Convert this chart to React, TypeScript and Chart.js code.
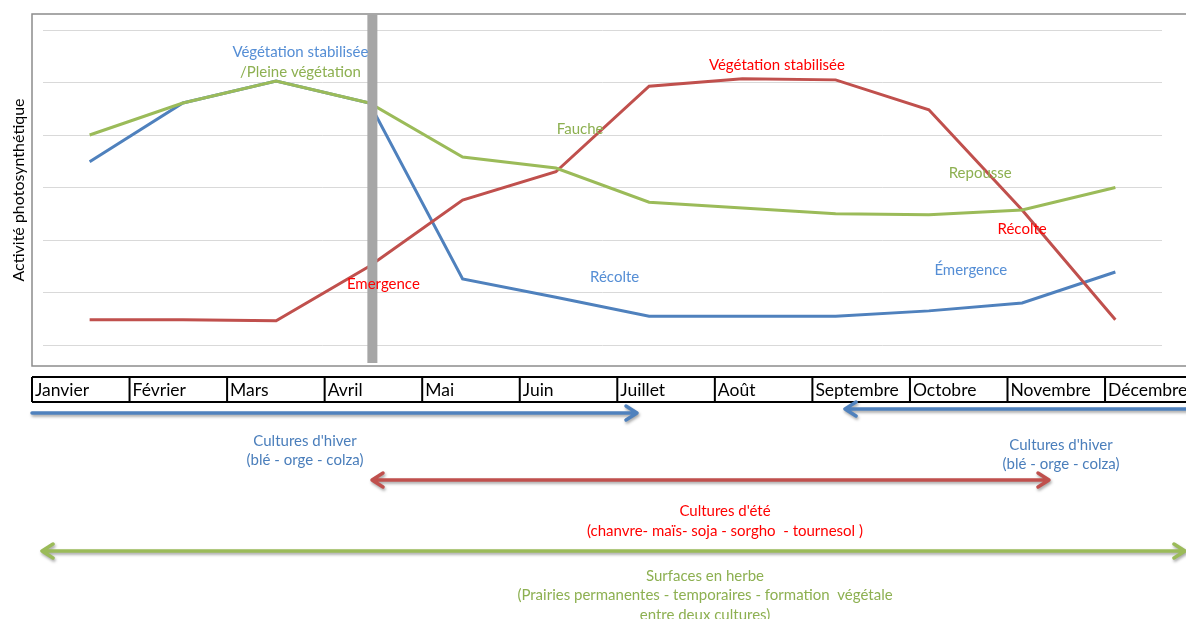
import React, { useEffect, useRef } from 'react';
import { Chart, registerables } from 'chart.js';

Chart.register(...registerables);

// Calendar months shown in the table under the chart
const months = [
  'Janvier', 'Février', 'Mars', 'Avril', 'Mai', 'Juin',
  'Juillet', 'Août', 'Septembre', 'Octobre', 'Novembre', 'Décembre',
];

// Photosynthetic activity per month (relative units, 0–6)
const culturesHiver = [3.49, 4.61, 5.03, 4.61, 1.26, 0.91, 0.55, 0.55, 0.55, 0.65, 0.8, 1.39];
const culturesEte = [0.48, 0.48, 0.46, 1.5, 2.76, 3.3, 4.93, 5.07, 5.05, 4.48, 2.57, 0.48];
const surfacesHerbe = [4.0, 4.61, 5.03, 4.61, 3.58, 3.37, 2.72, 2.61, 2.5, 2.48, 2.57, 3.0];

const yTicks = [0, 1, 2, 3, 4, 5, 6];

const BLUE = '#4f81bd';
const RED = '#c0504d';
const GREEN = '#9bbb59';
const BLUE_TXT = '#558ed5';
const RED_TXT = '#ff0000';
const GREEN_TXT = '#8db051';

// Phase labels placed in data space: [month index, value]
const phaseLabels: { text: string; at: [number, number]; color: string }[] = [
  { text: 'Végétation stabilisée', at: [2.26, 5.58], color: BLUE_TXT },
  { text: '/Pleine végétation', at: [2.26, 5.2], color: GREEN_TXT },
  { text: 'Emergence', at: [3.15, 1.16], color: RED_TXT },
  { text: 'Fauche', at: [5.26, 4.11], color: GREEN_TXT },
  { text: 'Végétation stabilisée', at: [7.37, 5.33], color: RED_TXT },
  { text: 'Repousse', at: [9.55, 3.28], color: GREEN_TXT },
  { text: 'Récolte', at: [10.0, 2.21], color: RED_TXT },
  { text: 'Récolte', at: [5.63, 1.3], color: BLUE_TXT },
  { text: 'Émergence', at: [9.45, 1.43], color: BLUE_TXT },
];

const FONT = 'Lato, "Open Sans", sans-serif';

function drawArrow(
  ctx: CanvasRenderingContext2D,
  x1: number, x2: number, y: number, color: string,
  headStart: boolean, headEnd: boolean,
) {
  ctx.save();
  ctx.strokeStyle = color;
  ctx.lineWidth = 3.5;
  ctx.lineCap = 'round';
  ctx.lineJoin = 'round';
  ctx.shadowColor = 'rgba(0,0,0,0.35)';
  ctx.shadowBlur = 3;
  ctx.shadowOffsetX = 1;
  ctx.shadowOffsetY = 2;
  ctx.beginPath();
  ctx.moveTo(x1, y);
  ctx.lineTo(x2, y);
  if (headEnd) {
    ctx.moveTo(x2 - 11, y - 7);
    ctx.lineTo(x2, y);
    ctx.lineTo(x2 - 11, y + 7);
  }
  if (headStart) {
    ctx.moveTo(x1 + 11, y - 7);
    ctx.lineTo(x1, y);
    ctx.lineTo(x1 + 11, y + 7);
  }
  ctx.stroke();
  ctx.restore();
}

function centerText(ctx: CanvasRenderingContext2D, lines: string[], cx: number, y0: number, dy: number, color: string) {
  ctx.save();
  ctx.fillStyle = color;
  ctx.font = `15px ${FONT}`;
  ctx.textAlign = 'center';
  ctx.textBaseline = 'middle';
  lines.forEach((l, i) => ctx.fillText(l, cx, y0 + i * dy));
  ctx.restore();
}

const extras = {
  id: 'extras',
  beforeDraw(chart: any) {
    const ctx: CanvasRenderingContext2D = chart.ctx;
    ctx.save();
    ctx.fillStyle = '#ffffff';
    ctx.fillRect(0, 0, chart.width, chart.height);
    // outer frame of the plot
    ctx.strokeStyle = '#8c8c8c';
    ctx.lineWidth = 1.5;
    ctx.strokeRect(32, 14, 1200, 352);
    ctx.restore();
  },
  afterDatasetsDraw(chart: any) {
    const ctx: CanvasRenderingContext2D = chart.ctx;
    const xs = chart.scales.x;
    const ys = chart.scales.y;

    // April marker bar
    ctx.save();
    ctx.fillStyle = '#a6a6a6';
    const bx = xs.getPixelForValue(3) + 3;
    ctx.fillRect(bx - 5, 14, 10, 349);
    ctx.restore();

    // phase labels
    ctx.save();
    ctx.font = `15px ${FONT}`;
    ctx.textAlign = 'center';
    ctx.textBaseline = 'middle';
    phaseLabels.forEach((p) => {
      ctx.fillStyle = p.color;
      ctx.fillText(p.text, xs.getPixelForValue(p.at[0]), ys.getPixelForValue(p.at[1]));
    });
    ctx.restore();

    // y axis title
    ctx.save();
    ctx.translate(19, 190);
    ctx.rotate(-Math.PI / 2);
    ctx.font = `16px ${FONT}`;
    ctx.fillStyle = '#000';
    ctx.textAlign = 'center';
    ctx.textBaseline = 'middle';
    ctx.fillText('Activité photosynthétique', 0, 0);
    ctx.restore();

    // month table
    const tx = 32;
    const cw = 97.55;
    const top = 377;
    const bottom = 402;
    ctx.save();
    ctx.strokeStyle = '#000';
    ctx.lineWidth = 2;
    ctx.beginPath();
    ctx.moveTo(tx, top);
    ctx.lineTo(tx + cw * months.length, top);
    ctx.moveTo(tx, bottom);
    ctx.lineTo(tx + cw * months.length, bottom);
    for (let i = 0; i <= months.length; i++) {
      ctx.moveTo(tx + i * cw, top);
      ctx.lineTo(tx + i * cw, bottom);
    }
    ctx.stroke();
    ctx.font = `17.5px ${FONT}`;
    ctx.fillStyle = '#000';
    ctx.textBaseline = 'middle';
    ctx.textAlign = 'left';
    months.forEach((m, i) => ctx.fillText(m, tx + i * cw + 3, (top + bottom) / 2 + 1));
    ctx.restore();

    // crop period arrows
    drawArrow(ctx, 32, 637, 413, BLUE, false, true);
    drawArrow(ctx, 845, 1195, 409, BLUE, true, false);
    drawArrow(ctx, 372, 1049, 480, RED, true, true);
    drawArrow(ctx, 42, 1185, 551, GREEN, true, true);

    centerText(ctx, ["Cultures d'hiver", '(blé - orge - colza)'], 305, 441, 19.5, '#4a7ebb');
    centerText(ctx, ["Cultures d'hiver", '(blé - orge - colza)'], 1061, 445, 19.5, '#4a7ebb');
    centerText(ctx, ["Cultures d'été", '(chanvre- maïs- soja - sorgho  - tournesol )'], 725, 511, 20.5, RED_TXT);
    centerText(
      ctx,
      ['Surfaces en herbe', '(Prairies permanentes - temporaires - formation  végétale', 'entre deux cultures)'],
      705, 576, 19.5, GREEN_TXT,
    );
  },
};

export default function App() {
  const ref = useRef<HTMLCanvasElement | null>(null);

  useEffect(() => {
    if (!ref.current) return;
    const chart = new Chart(ref.current, {
      type: 'line',
      data: {
        labels: months,
        datasets: [
          { label: 'Surfaces en herbe', data: surfacesHerbe, borderColor: GREEN, borderWidth: 3, pointRadius: 0, tension: 0, fill: false },
          { label: "Cultures d'été", data: culturesEte, borderColor: RED, borderWidth: 3, pointRadius: 0, tension: 0, fill: false },
          { label: "Cultures d'hiver", data: culturesHiver, borderColor: BLUE, borderWidth: 3, pointRadius: 0, tension: 0, fill: false },
        ],
      },
      options: {
        responsive: false,
        animation: false,
        layout: { padding: { left: 43, right: 24, top: 30, bottom: 274 } },
        plugins: { legend: { display: false }, tooltip: { enabled: false } },
        scales: {
          x: { display: false, offset: true },
          y: {
            min: yTicks[0],
            max: yTicks[yTicks.length - 1],
            afterBuildTicks: (s: any) => { s.ticks = yTicks.map((v) => ({ value: v })); },
            ticks: { display: false },
            grid: { color: '#d9d9d9', drawTicks: false, lineWidth: 1 },
            border: { display: false },
          },
        },
      },
      plugins: [extras],
    } as any);
    return () => chart.destroy();
  }, []);

  return (
    <div style={{ position: 'absolute', left: 0, top: 0, width: 1186, height: 619 }}>
      <canvas ref={ref} width={1186} height={619} style={{ display: 'block' }} />
    </div>
  );
}
